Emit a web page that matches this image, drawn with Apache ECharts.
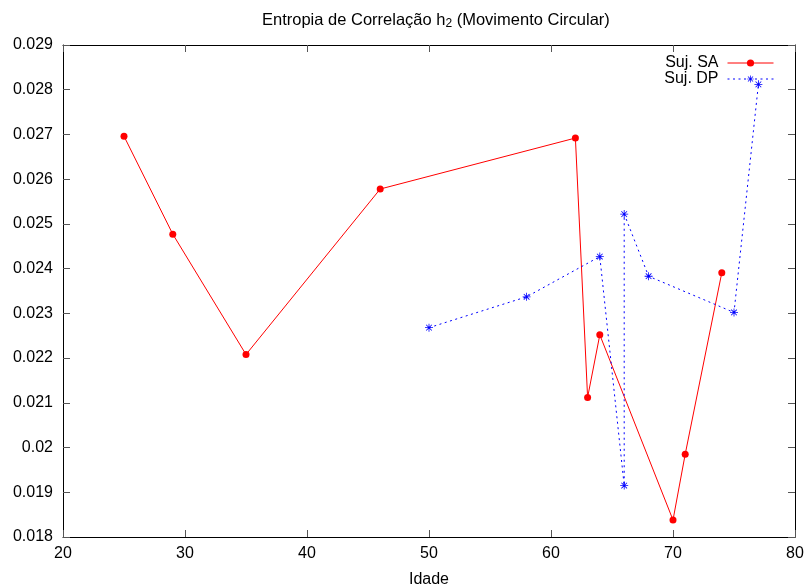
<!DOCTYPE html>
<html>
<head>
<meta charset="utf-8">
<script src="https://cdn.jsdelivr.net/npm/echarts@6/dist/echarts.min.js"></script>
<style>
html,body{margin:0;padding:0;background:#fff;}
#chart{width:808px;height:588px;}
</style>
</head>
<body>
<div id="chart"></div>
<script>
// Data
var saAges = [25, 29, 35, 46, 62, 63, 64, 70, 71, 74];
var saValues = [0.02696, 0.02477, 0.02208, 0.02578, 0.02692, 0.02112, 0.02252, 0.01838, 0.01985, 0.02391];
var dpAges = [50, 58, 64, 66, 66, 68, 75, 77];
var dpValues = [0.02268, 0.02337, 0.02427, 0.01915, 0.02522, 0.02383, 0.02302, 0.02812];
var seriesNames = ['Suj. SA', 'Suj. DP'];
var xTicks = {min: 20, max: 80, step: 10};
var yTicks = {min: 0.018, max: 0.029, step: 0.001};

function pairs(xs, ys) { return xs.map(function (x, i) { return [x, ys[i]]; }); }

var FONT = 'Liberation Sans';
var asterisk = 'path://M0,9 L20,9 L20,11 L0,11 Z M9,0 L11,0 L11,20 L9,20 Z ' +
  'M2.2,3.6 L3.6,2.2 L17.8,16.4 L16.4,17.8 Z M16.4,2.2 L17.8,3.6 L3.6,17.8 L2.2,16.4 Z';

var chart = echarts.init(document.getElementById('chart'), null, {renderer: 'canvas'});
var tickStyle = {show: true, inside: true, length: 7, lineStyle: {color: '#555', width: 1}};
var option = {
  backgroundColor: '#fff',
  animation: false,
  title: {
    text: 'Entropia de Correlação h{sub|2} (Movimento Circular)',
    left: 257, top: 6,
    textStyle: {
      fontFamily: FONT, fontSize: 16.5, fontWeight: 'normal', color: '#000',
      rich: {sub: {fontFamily: FONT, fontSize: 12, verticalAlign: 'bottom', padding: [7, 0, 0, 0], color: '#000'}}
    }
  },
  legend: {
    orient: 'vertical', right: 29, top: 50, align: 'right',
    itemWidth: 46, itemHeight: 9, itemGap: 0,
    lineStyle: {width: 1},
    textStyle: {fontFamily: FONT, fontSize: 16, color: '#000', padding: [0, 4, 0, 0]},
    data: seriesNames
  },
  grid: {left: 63, right: 13, top: 45, bottom: 51, containLabel: false, outerBoundsMode: 'none'},
  xAxis: [{
    type: 'value', min: xTicks.min, max: xTicks.max, interval: xTicks.step,
    name: 'Idade', nameLocation: 'middle', nameGap: 35,
    nameTextStyle: {fontFamily: FONT, fontSize: 16, color: '#000'},
    axisLine: {show: true, onZero: false, lineStyle: {color: '#000', width: 1}},
    axisTick: tickStyle,
    axisLabel: {fontFamily: FONT, fontSize: 16, color: '#000', margin: 9},
    splitLine: {show: false}
  }, {
    type: 'value', position: 'top', min: xTicks.min, max: xTicks.max, interval: xTicks.step,
    axisLine: {show: true, onZero: false, lineStyle: {color: '#000', width: 1}},
    axisTick: tickStyle, axisLabel: {show: false}, splitLine: {show: false}
  }],
  yAxis: [{
    type: 'value', min: yTicks.min, max: yTicks.max, interval: yTicks.step,
    axisLine: {show: true, onZero: false, lineStyle: {color: '#000', width: 1}},
    axisTick: tickStyle,
    axisLabel: {fontFamily: FONT, fontSize: 16, color: '#000', margin: 10,
      formatter: function (v) { return String(parseFloat(v.toFixed(4))); }},
    splitLine: {show: false}
  }, {
    type: 'value', position: 'right', min: yTicks.min, max: yTicks.max, interval: yTicks.step,
    axisLine: {show: true, onZero: false, lineStyle: {color: '#000', width: 1}},
    axisTick: tickStyle, axisLabel: {show: false}, splitLine: {show: false}
  }],
  series: [{
    name: seriesNames[0], type: 'line', xAxisIndex: 0, yAxisIndex: 0,
    data: pairs(saAges, saValues),
    symbol: 'circle', symbolSize: 7,
    itemStyle: {color: '#ff0000'},
    lineStyle: {color: '#ff0000', width: 1}
  }, {
    name: seriesNames[1], type: 'line', xAxisIndex: 0, yAxisIndex: 0,
    data: pairs(dpAges, dpValues),
    symbol: asterisk, symbolSize: 8,
    itemStyle: {color: '#0000ff'},
    lineStyle: {color: '#0000ff', width: 1, type: [2, 3.5]}
  }]
};
chart.setOption(option);
</script>
</body>
</html>
